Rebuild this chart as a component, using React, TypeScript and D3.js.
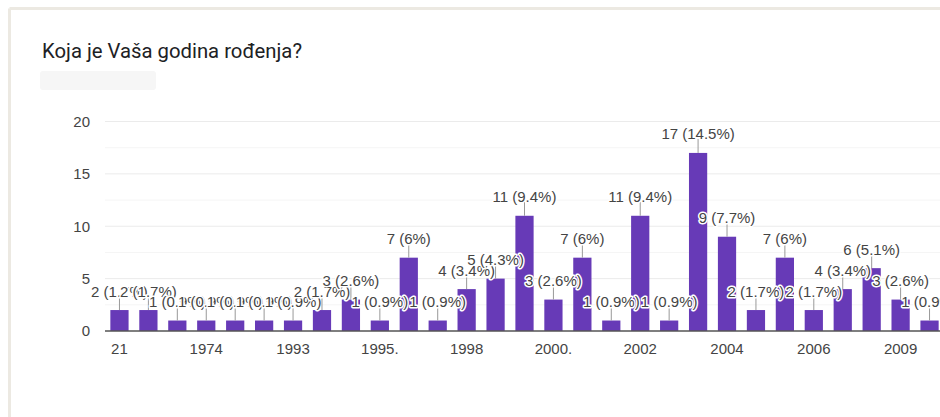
import React from "react";
import * as d3 from "d3";

const categories = ["21", "1970", "1972", "1974", "1980", "1990", "1993", "1994", "1995", "1995.", "1996", "1997", "1998", "1998.", "1999", "2000.", "2000", "2001", "2002", "2002.", "2003", "2004", "2004.", "2005", "2006", "2007", "2008", "2009", "2010"];
const counts = [2, 2, 1, 1, 1, 1, 1, 2, 3, 1, 7, 1, 4, 5, 11, 3, 7, 1, 11, 1, 17, 9, 2, 7, 2, 4, 6, 3, 1];
const percents = ["1.7%", "1.7%", "0.9%", "0.9%", "0.9%", "0.9%", "0.9%", "1.7%", "2.6%", "0.9%", "6%", "0.9%", "3.4%", "4.3%", "9.4%", "2.6%", "6%", "0.9%", "9.4%", "0.9%", "14.5%", "7.7%", "1.7%", "6%", "1.7%", "3.4%", "5.1%", "2.6%", "0.9%"];
const yTicks = [0, 5, 10, 15, 20];
const yMinor = [2.5, 7.5, 12.5, 17.5];
const title = "Koja je Vaša godina rođenja?";

const W = 940;
const H = 417;
const left = 105;
const right = 944;
const top = 121.5;
const bottom = 331;

export default function App() {
  const x = d3.scaleBand<string>().domain(categories).range([left, right]).paddingInner(0.37).paddingOuter(0.185);
  const y = d3.scaleLinear().domain([0, 20]).range([bottom, top]);
  const shown = categories.filter((_, i) => i % 3 === 0);
  const font = "'Liberation Sans', Arial, sans-serif";

  return (
    <svg width={W} height={H} style={{ position: "fixed", top: 0, left: 0, background: "#fff", display: "block" }}>
      <rect x={0} y={0} width={W} height={H} fill="#fff" />
      <line x1={9.5} y1={8.5} x2={W} y2={8.5} stroke="#ece9e2" strokeWidth={3} />
      <line x1={9.5} y1={8.5} x2={9.5} y2={H} stroke="#ece9e2" strokeWidth={3} />
      <text x={42} y={58} fontFamily="Roboto, 'Open Sans', sans-serif" fontSize={20.3} fill="#202124">{title}</text>
      <rect x={40} y={71} width={116} height={19} rx={3} fill="#f6f6f6" />
      {yMinor.map((t) => (
        <line key={"m" + t} x1={left} x2={right} y1={y(t)} y2={y(t)} stroke="#f5f5f5" strokeWidth={1} />
      ))}
      {yTicks.filter((t) => t > 0).map((t) => (
        <line key={"g" + t} x1={left} x2={right} y1={y(t)} y2={y(t)} stroke="#ebebeb" strokeWidth={1} />
      ))}
      {yTicks.map((t) => (
        <text key={"yl" + t} x={90} y={y(t)} dy="0.35em" textAnchor="end" fontFamily={font} fontSize={15} fill="#444">{t}</text>
      ))}
      {categories.map((c, i) => (
        <rect key={"b" + c} x={x(c)} y={y(counts[i])} width={x.bandwidth()} height={bottom - y(counts[i])} fill="#673ab7" />
      ))}
      <line x1={left} x2={right} y1={bottom} y2={bottom} stroke="#555" strokeWidth={1.5} />
      {shown.map((c) => (
        <text key={"xl" + c} x={(x(c) as number) + x.bandwidth() / 2} y={354} textAnchor="middle" fontFamily={font} fontSize={15} fill="#444">{c}</text>
      ))}
      {categories.map((c, i) => {
        const cx = (x(c) as number) + x.bandwidth() / 2;
        const bt = y(counts[i]);
        return (
          <g key={"a" + c}>
            <line x1={cx} x2={cx} y1={bt} y2={bt - 14} stroke="#999" strokeWidth={1} />
            <text x={cx} y={bt - 13.5} textAnchor="middle" fontFamily={font} fontSize={15} fill="#444" stroke="#fff" strokeWidth={3} strokeLinejoin="round" style={{ paintOrder: "stroke" }}>
              {`${counts[i]} (${percents[i]})`}
            </text>
          </g>
        );
      })}
    </svg>
  );
}
